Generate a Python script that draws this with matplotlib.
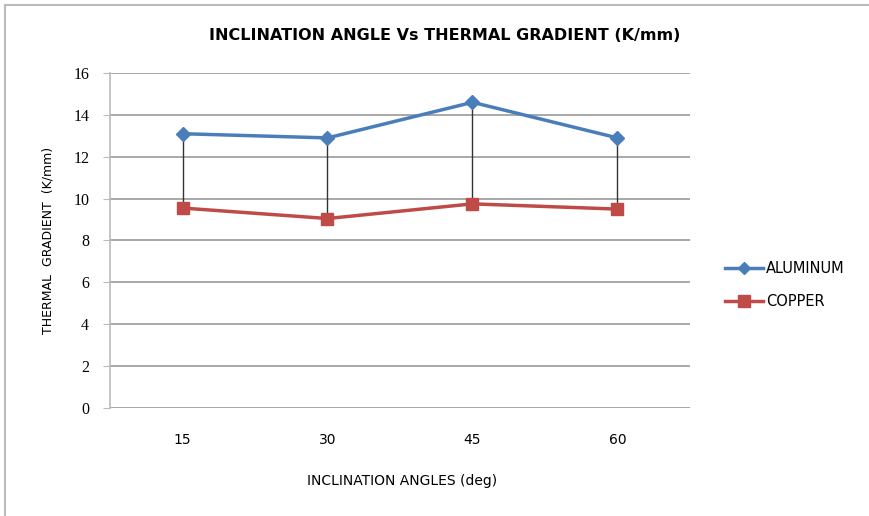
import matplotlib
matplotlib.use("Agg")
import matplotlib.pyplot as plt
from matplotlib.lines import Line2D

categories = ["15", "30", "45", "60"]
aluminum = [13.1, 12.9, 14.6, 12.9]
copper = [9.55, 9.05, 9.75, 9.5]
yticks = [0, 2, 4, 6, 8, 10, 12, 14, 16]

fig = plt.figure(figsize=(8.7, 5.16), dpi=100)
ax = fig.add_axes([110/870, 1-408/516, 580/870, (408-73)/516])

x = [i + 0.5 for i in range(len(categories))]

# high-low lines
ax.vlines(x, copper, aluminum, colors="#333333", linewidth=1.0, zorder=2)

ax.plot(x, aluminum, color="#4A7EBB", linewidth=2.5, marker="D", markersize=7,
        markerfacecolor="#4A7EBB", markeredgecolor="#4A7EBB", zorder=3, label="ALUMINUM")
ax.plot(x, copper, color="#BE4B48", linewidth=2.5, marker="s", markersize=8,
        markerfacecolor="#BE4B48", markeredgecolor="#BE4B48", zorder=3, label="COPPER")

ax.set_xlim(0, 4)
ax.set_ylim(0, 16)
ax.set_yticks(yticks)
ax.set_yticklabels([str(v) for v in yticks], fontsize=11.5, family="Liberation Serif")
ax.set_xticks(x)
ax.set_xticklabels(categories, fontsize=10, family="DejaVu Sans")
ax.tick_params(axis="x", length=0, pad=18)
ax.tick_params(axis="y", length=5, color="#BBBBBB", pad=10)
ax.yaxis.grid(True, color="#999999", linewidth=1.2)
ax.set_axisbelow(True)
for s in ["top", "right", "bottom"]:
    ax.spines[s].set_visible(False)
ax.spines["left"].set_color("#BBBBBB")
ax.spines["left"].set_linewidth(1.2)

fig.text(445/870, 1 - 36/516, "INCLINATION ANGLE Vs THERMAL GRADIENT (K/mm)",
         ha="center", va="center", fontsize=11.5, fontweight="bold", family="DejaVu Sans")
fig.text(402/870, 1 - 481/516, "INCLINATION ANGLES (deg)", ha="center", va="center",
         fontsize=10, family="DejaVu Sans")
fig.text(48/870, 1 - 240/516, "THERMAL  GRADIENT  (K/mm)", ha="center", va="center",
         rotation=90, fontsize=9, family="DejaVu Sans")

handles = [Line2D([0], [0], color="#4A7EBB", linewidth=2.5, marker="D", markersize=6),
           Line2D([0], [0], color="#BE4B48", linewidth=2.5, marker="s", markersize=8)]
fig.legend(handles, ["ALUMINUM", "COPPER"], loc="center left",
           bbox_to_anchor=(712/870, 1 - 285/516), frameon=False, fontsize=10.5,
           handlelength=2.6, handletextpad=0.2, labelspacing=1.2)

fig.add_artist(Line2D([5/870, 5/870], [0, 1 - 5/516], transform=fig.transFigure,
                      color="#BBBBBB", linewidth=1.5))
fig.add_artist(Line2D([5/870, 1], [1 - 5/516, 1 - 5/516], transform=fig.transFigure,
                      color="#BBBBBB", linewidth=1.5))

fig.savefig("out.png", dpi=100)
